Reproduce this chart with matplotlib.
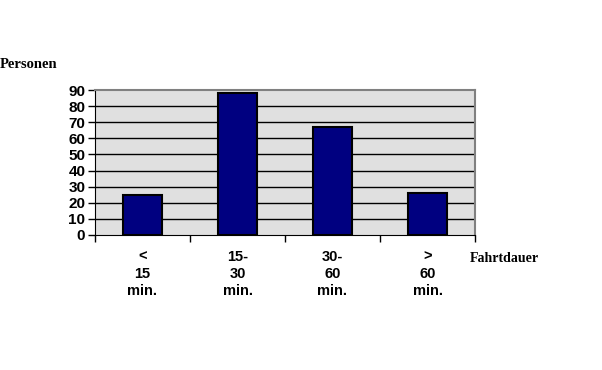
import matplotlib
matplotlib.use("Agg")
import matplotlib.pyplot as plt
import numpy as np

categories = ['<\n15\nmin.', '15-\n30\nmin.', '30-\n60\nmin.', '>\n60\nmin.']
personen = [25, 88, 67, 26]
yticks = [0, 10, 20, 30, 40, 50, 60, 70, 80, 90]

fig = plt.figure(figsize=(6.02, 3.70), dpi=100)
ax = fig.add_axes([95/602, 1-235/370, 380/602, 145/370])
ax.set_facecolor('#e0e0e0')

x = np.arange(len(categories))
ax.bar(x, personen, 0.42, color='#000080', edgecolor='black', linewidth=1.5, zorder=3)

ax.set_xlim(-0.5, len(categories) - 0.5)
ax.set_ylim(0, 90)
ax.set_yticks(yticks)
for y in yticks[1:-1]:
    ax.axhline(y, color='black', linewidth=1, zorder=1)

ax.spines['top'].set_color('#808080')
ax.spines['right'].set_color('#808080')
ax.spines['top'].set_linewidth(1.5)
ax.spines['right'].set_linewidth(1.5)
ax.spines['left'].set_color('black')
ax.spines['bottom'].set_color('black')

# category boundaries get the tick marks, labels sit in between
ax.set_xticks(np.arange(-0.5, len(categories)), minor=False)
ax.set_xticklabels([])
ax.set_xticks(x, minor=True)
ax.set_xticklabels(categories, minor=True, fontsize=10.5, fontweight='bold',
                   family='Liberation Sans', linespacing=1.25, va='top')
ax.tick_params(axis='x', which='major', direction='out', length=5, width=1)
ax.tick_params(axis='x', which='minor', length=0, pad=11)
ax.tick_params(axis='y', direction='out', length=5, width=1, pad=2)
for lab in ax.get_yticklabels():
    lab.set_fontsize(11)
    lab.set_fontweight('bold')
    lab.set_family('Liberation Sans')

fig.text(0.0, 1-64/370, 'Personen', fontsize=10.5, fontweight='bold',
         family='Liberation Serif', va='center', ha='left')
fig.text(470/602, 1-258/370, 'Fahrtdauer', fontsize=10, fontweight='bold',
         family='Liberation Serif', va='center', ha='left')

fig.savefig('out.png', dpi=100, facecolor='white')
